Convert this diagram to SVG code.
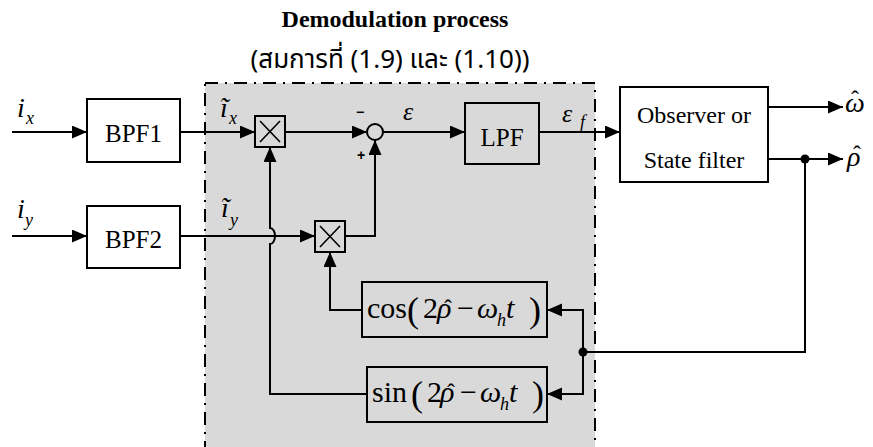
<svg xmlns="http://www.w3.org/2000/svg" width="873" height="447" viewBox="0 0 873 447">
<style>
.box{fill:none;stroke:#000;stroke-width:2}
.wbox{fill:#fff;stroke:#000;stroke-width:2}
.ln{fill:none;stroke:#000;stroke-width:2}
.arr{fill:none;stroke:#000;stroke-width:2;marker-end:url(#ah)}
.t{font-family:"Liberation Serif","Times New Roman",serif;fill:#000}
.it{font-family:"Liberation Serif","Times New Roman",serif;font-style:italic;fill:#000}
.hat{font-family:"Liberation Serif","Times New Roman",serif;fill:#000;text-anchor:middle}
.x{stroke:#000;stroke-width:1.6}
.sg{font-family:"Liberation Sans",Arial,sans-serif;font-weight:bold;fill:#000;font-size:14px;text-anchor:middle}
</style>
<defs>
<marker id="ah" markerUnits="userSpaceOnUse" markerWidth="16" markerHeight="14" refX="15" refY="6.5" orient="auto">
<path d="M0,0 L15,6.5 L0,13 z" fill="#000"/>
</marker>
</defs>
<rect width="873" height="447" fill="#fff"/>

<g id="title">
<text class="t" x="395" y="27" font-size="24" font-weight="bold" text-anchor="middle">Demodulation process</text>
<text x="390" y="68" font-size="26" text-anchor="middle" font-family="'Noto Sans Thai','Noto Sans','DejaVu Sans',sans-serif">(สมการที่ (1.9) และ (1.10))</text>
</g>

<g id="demod-region">
<rect x="205" y="83" width="390" height="390" fill="#d9d9d9" stroke="#000" stroke-width="2" stroke-dasharray="13,7,2,7"/>
</g>

<g id="connectors">
<path class="arr" d="M12,132 H87"/>
<path class="arr" d="M180,132 H255"/>
<path class="arr" d="M285,132 H367"/>
<path class="arr" d="M383,132 H465"/>
<path class="arr" d="M539,132 H620"/>
<path class="arr" d="M768,107 H843"/>
<path class="arr" d="M768,159 H843"/>
<path class="arr" d="M12,236 H87"/>
<path class="arr" d="M180,236 H315"/>
<path class="arr" d="M345,236 H375 V140"/>
<path class="ln" d="M805,159 V352 H583"/>
<path class="arr" d="M583,352 V310 H547"/>
<path class="arr" d="M583,352 V394 H547"/>
<path class="arr" d="M362,310 H330 V252"/>
<path class="arr" d="M367,394 H270 V244 A5,8 0 0 0 270,228 V147"/>
<circle cx="805" cy="159" r="4.5" fill="#000"/>
<circle cx="583" cy="352" r="4.5" fill="#000"/>
</g>

<g id="in-ix">
<text class="it" x="17" y="117" font-size="28">i</text>
<text class="it" x="26" y="124" font-size="18">x</text>
</g>
<g id="in-iy">
<text class="it" x="17" y="218" font-size="28">i</text>
<text class="it" x="25" y="226" font-size="18">y</text>
</g>

<g id="bpf1">
<rect class="wbox" x="87" y="99" width="93" height="63"/>
<text class="t" x="133.5" y="142" font-size="25" text-anchor="middle">BPF1</text>
</g>
<g id="bpf2">
<rect class="wbox" x="87" y="206" width="93" height="62"/>
<text class="t" x="133.5" y="248" font-size="25" text-anchor="middle">BPF2</text>
</g>

<g id="lbl-ix-tilde">
<text class="it" x="220" y="117" font-size="28">ĩ</text>
<text class="it" x="229" y="124" font-size="18">x</text>
</g>
<g id="lbl-iy-tilde">
<text class="it" x="221" y="217" font-size="28">ĩ</text>
<text class="it" x="230" y="226" font-size="18">y</text>
</g>

<g id="mult1">
<rect class="box" x="255" y="116" width="30" height="31"/>
<path class="x" d="M260,121 L280,142 M280,121 L260,142"/>
</g>
<g id="mult2">
<rect class="box" x="315" y="221" width="30" height="31"/>
<path class="x" d="M320,226 L340,247 M340,226 L320,247"/>
</g>

<g id="sum">
<circle cx="375" cy="132" r="8" fill="none" stroke="#000" stroke-width="2"/>
<text class="sg" x="360" y="117">−</text>
<text class="sg" x="361" y="160">+</text>
</g>

<g id="lbl-eps">
<text class="it" x="403" y="120" font-size="26">ε</text>
</g>

<g id="lpf">
<rect class="box" x="465" y="103" width="74" height="61"/>
<text class="t" x="502" y="146" font-size="25" text-anchor="middle">LPF</text>
</g>

<g id="lbl-epsf">
<text class="it" x="562" y="122" font-size="26">ε</text>
<text class="it" x="580" y="128" font-size="18">f</text>
</g>

<g id="observer">
<rect class="wbox" x="620" y="87" width="148" height="95"/>
<text class="t" x="694" y="123" font-size="24" text-anchor="middle">Observer or</text>
<text class="t" x="694" y="168" font-size="24" text-anchor="middle">State filter</text>
</g>

<g id="out-omega">
<text class="it" x="845" y="112" font-size="28">ω</text>
<text class="hat" x="855" y="107" font-size="24">ˆ</text>
</g>
<g id="out-rho">
<text class="it" x="847" y="166" font-size="28">ρ</text>
<text class="hat" x="857" y="162" font-size="24">ˆ</text>
</g>

<g id="cos-block">
<rect class="box" x="362" y="282" width="185" height="55"/>
<text class="t" x="367" y="318" font-size="30">cos</text>
<text class="t" x="407" y="322" font-size="36">(</text>
<text class="t" x="423" y="318" font-size="30">2</text>
<text class="it" x="437" y="318" font-size="30">ρ</text>
<text class="hat" x="448" y="316" font-size="24">ˆ</text>
<text class="t" x="457" y="318" font-size="30">−</text>
<text class="it" x="477" y="318" font-size="30">ω</text>
<text class="it" x="497" y="326" font-size="18">h</text>
<text class="it" x="506" y="318" font-size="30">t</text>
<text class="t" x="529" y="322" font-size="36">)</text>
</g>

<g id="sin-block">
<rect class="box" x="367" y="367" width="180" height="55"/>
<text class="t" x="372" y="402" font-size="30">sin</text>
<text class="t" x="411" y="406" font-size="36">(</text>
<text class="t" x="427" y="402" font-size="30">2</text>
<text class="it" x="440" y="402" font-size="30">ρ</text>
<text class="hat" x="451" y="400" font-size="24">ˆ</text>
<text class="t" x="460" y="402" font-size="30">−</text>
<text class="it" x="480" y="402" font-size="30">ω</text>
<text class="it" x="500" y="410" font-size="18">h</text>
<text class="it" x="509" y="402" font-size="30">t</text>
<text class="t" x="532" y="406" font-size="36">)</text>
</g>
</svg>
